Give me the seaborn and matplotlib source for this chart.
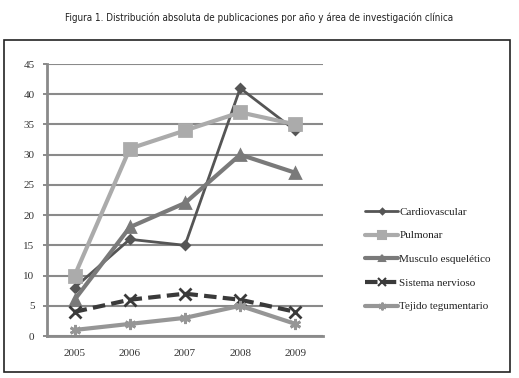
import pandas as pd
import seaborn as sns
import matplotlib.pyplot as plt
from matplotlib.patches import Rectangle
from matplotlib.lines import Line2D

# Data
years = ["2005", "2006", "2007", "2008", "2009"]
cardiovascular = [8, 16, 15, 41, 34]
pulmonar = [10, 31, 34, 37, 35]
musculo = [6, 18, 22, 30, 27]
nervioso = [4, 6, 7, 6, 4]
tejido = [1, 2, 3, 5, 2]

series_names = ["Cardiovascular", "Pulmonar", "Musculo esquelético",
                "Sistema nervioso", "Tejido tegumentario"]
series_values = [cardiovascular, pulmonar, musculo, nervioso, tejido]

rows = []
for name, vals in zip(series_names, series_values):
    for i, v in enumerate(vals):
        rows.append({"pos": i, "year": years[i], "area": name, "n": v})
df = pd.DataFrame(rows)

styles = {
    "Cardiovascular": dict(color="#555555", lw=2.0, marker="D", ms=4, ls="-"),
    "Pulmonar": dict(color="#ababab", lw=3.0, marker="s", ms=8, ls="-"),
    "Musculo esquelético": dict(color="#7a7a7a", lw=3.0, marker="^", ms=7, ls="-"),
    "Sistema nervioso": dict(color="#3a3a3a", lw=3.0, marker="x", ms=8, ls=(0, (3, 1.5))),
    "Tejido tegumentario": dict(color="#969696", lw=3.0, marker=(6, 2, 0), ms=8, ls="-"),
}

sns.set_style("white")
plt.rcParams["font.family"] = ["Liberation Serif", "DejaVu Serif"]

fig = plt.figure(figsize=(5.19, 3.78), dpi=100)
ax = fig.add_axes([47 / 519, 1 - 336 / 378, 276 / 519, 272 / 378])

for name in series_names:
    st = styles[name]
    sub = df[df["area"] == name]
    sns.lineplot(data=sub, x="pos", y="n", ax=ax, color=st["color"],
                 linewidth=st["lw"], linestyle=st["ls"], marker=st["marker"],
                 markersize=st["ms"], markeredgecolor=st["color"],
                 markeredgewidth=2, label=None, legend=False)

ax.set_xlim(-0.5, 4.5)
ax.set_ylim(0, 45)
ax.set_yticks(range(0, 46, 5))
ax.yaxis.grid(True, color="#8a8a8a", linewidth=1.5)
ax.set_axisbelow(True)
ax.set_xticks(range(5))
ax.set_xticklabels(years)
ax.set_xticks([-0.5 + i for i in range(6)], minor=True)
ax.tick_params(axis="x", which="major", length=0, pad=9, labelsize=8, colors="#333333")
ax.tick_params(axis="x", which="minor", length=3, width=1.2, color="#777777", direction="out")
ax.tick_params(axis="y", length=3, width=1.2, color="#777777", labelsize=8,
               labelcolor="#333333", pad=6, left=True)
ax.set_xlabel("")
ax.set_ylabel("")
for s in ["top", "right"]:
    ax.spines[s].set_visible(False)
for s in ["left", "bottom"]:
    ax.spines[s].set_color("#8a8a8a")
    ax.spines[s].set_linewidth(2)

# legend
handles = []
for name in series_names:
    st = styles[name]
    handles.append(Line2D([], [], color=st["color"], lw=st["lw"], ls=st["ls"],
                          marker=st["marker"], ms=st["ms"] * 0.7,
                          markeredgecolor=st["color"], markeredgewidth=1.5))
fig.legend(handles, series_names, loc="upper left", bbox_to_anchor=(355 / 519, 1 - 197 / 378),
           frameon=False, fontsize=8, handlelength=3.0, handletextpad=0.1,
           labelspacing=1.25, labelcolor="#222222")

# frame and title
fig.patches.append(Rectangle((4 / 519, 1 - 372 / 378), 506 / 519, 332 / 378,
                             transform=fig.transFigure, fill=False,
                             edgecolor="#222222", linewidth=1.2))
fig.text(0.5, 1 - 18 / 378,
         "Figura 1. Distribución absoluta de publicaciones por año y área de investigación clínica",
         ha="center", va="center", fontsize=7.1, fontstretch="condensed",
         family=["DejaVu Sans"], color="#222222")

fig.savefig("out.png", dpi=100)
